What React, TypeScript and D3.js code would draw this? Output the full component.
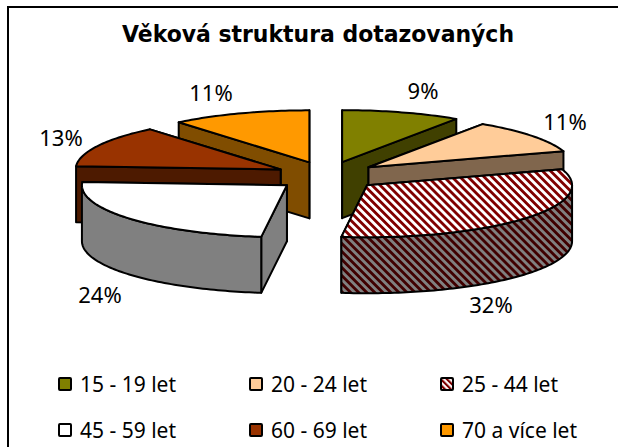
import React from "react";
import * as d3 from "d3";

const categories = ["15 - 19 let", "20 - 24 let", "25 - 44 let", "45 - 59 let", "60 - 69 let", "70 a více let"];
const values = [9.4, 10.6, 32, 24, 13, 11];
const percentLabels = ["9%", "11%", "32%", "24%", "13%", "11%"];
const topColors = ["#808000", "#FFCC99", "url(#stripeTop)", "#FFFFFF", "#993300", "#FF9900"];
const sideColors = ["#404000", "#80664D", "url(#stripeSide)", "#808080", "#4D1A00", "#804D00"];
const labelCenters: [number, number][] = [[423, 91], [565, 122], [491, 305], [100, 295], [61, 138], [211, 93]];
const drawOrder = [5, 0, 4, 1, 3, 2];

const W = 618, H = 447;
const cx = 327, cy = 176, rx = 205, ry = 52, depth = 56, explodeX = 52, explodeY = 14.5;
const FONT = "'Noto Sans', sans-serif";

const arcs = d3.pie<number>().sort(null).value((d) => d)(values);
const lineGen = d3.line<[number, number]>();

function sampleAngles(a0: number, a1: number): number[] {
  const n = Math.max(2, Math.ceil((a1 - a0) / 0.02));
  return d3.range(n + 1).map((i) => a0 + ((a1 - a0) * i) / n);
}

function Slice({ i }: { i: number }) {
  const a = arcs[i];
  const mid = (a.startAngle + a.endAngle) / 2;
  const ax = cx + explodeX * Math.sin(mid);
  const ay = cy - explodeY * Math.cos(mid);
  const rim = (t: number): [number, number] => [ax + rx * Math.sin(t), ay - ry * Math.cos(t)];
  const down = (p: [number, number]): [number, number] => [p[0], p[1] + depth];
  const apex: [number, number] = [ax, ay];

  const top = lineGen([apex, ...sampleAngles(a.startAngle, a.endAngle).map(rim), apex]) + "Z";
  const cuts = [a.startAngle, a.endAngle]
    .map((t) => rim(t))
    .sort((p, q) => p[1] - q[1])
    .map((p) => lineGen([apex, p, down(p), down(apex)]) + "Z");

  const front0 = Math.max(a.startAngle, Math.PI / 2);
  const front1 = Math.min(a.endAngle, (3 * Math.PI) / 2);
  let wall: string | null = null;
  if (front1 > front0) {
    const pts = sampleAngles(front0, front1).map(rim);
    wall = lineGen([...pts, ...pts.slice().reverse().map(down)]) + "Z";
  }
  const common = { stroke: "#000", strokeWidth: 2, strokeLinejoin: "round" as const };
  return (
    <g>
      {cuts.map((d, k) => (
        <path key={k} d={d} fill={sideColors[i]} {...common} />
      ))}
      {wall && <path d={wall} fill={sideColors[i]} {...common} />}
      <path d={top} fill={topColors[i]} {...common} />
    </g>
  );
}

const legendX = d3.scaleOrdinal<number, number>().domain([0, 1, 2]).range([59, 250, 441]);
const legendY = d3.scaleOrdinal<number, number>().domain([0, 1]).range([384, 430]);

export default function App() {
  return (
    <svg width={W} height={H} style={{ position: "absolute", left: 0, top: 0, background: "#fff" }}>
      <defs>
        <pattern id="stripeTop" width={8} height={8} patternUnits="userSpaceOnUse" patternTransform="rotate(-45) scale(0.71)">
          <rect width={8} height={8} fill="#fff" />
          <rect width={4} height={8} fill="#800000" />
        </pattern>
        <pattern id="stripeSide" width={8} height={8} patternUnits="userSpaceOnUse" patternTransform="rotate(-45) scale(0.71)">
          <rect width={8} height={8} fill="#808080" />
          <rect width={4} height={8} fill="#400000" />
        </pattern>
        <pattern id="stripeLegend" width={6} height={6} patternUnits="userSpaceOnUse" patternTransform="rotate(-45) scale(0.71)">
          <rect width={6} height={6} fill="#fff" />
          <rect width={3} height={6} fill="#800000" />
        </pattern>
      </defs>
      <rect x={8} y={7} width={W + 20} height={H + 20} fill="#fff" stroke="#000" strokeWidth={2} />
      <text x={318} y={42} textAnchor="middle" fontFamily="'DejaVu Sans', sans-serif" fontWeight="bold" fontSize={23} fill="#000" textLength={392} lengthAdjust="spacingAndGlyphs">
        Věková struktura dotazovaných
      </text>
      {drawOrder.map((i) => (
        <Slice key={i} i={i} />
      ))}
      {percentLabels.map((t, i) => (
        <text key={i} x={labelCenters[i][0]} y={labelCenters[i][1] + 8} textAnchor="middle" fontFamily={FONT} fontSize={22} fill="#000">
          {t}
        </text>
      ))}
      {categories.map((c, i) => {
        const x = legendX(i % 3);
        const y = legendY(Math.floor(i / 3));
        const fill = i === 2 ? "url(#stripeLegend)" : topColors[i];
        return (
          <g key={c}>
            <rect x={x} y={y - 6} width={12} height={12} fill={fill} stroke="#000" strokeWidth={2} rx={1} />
            <text x={x + 21} y={y + 8} fontFamily={FONT} fontSize={21} fill="#000">
              {c}
            </text>
          </g>
        );
      })}
    </svg>
  );
}
